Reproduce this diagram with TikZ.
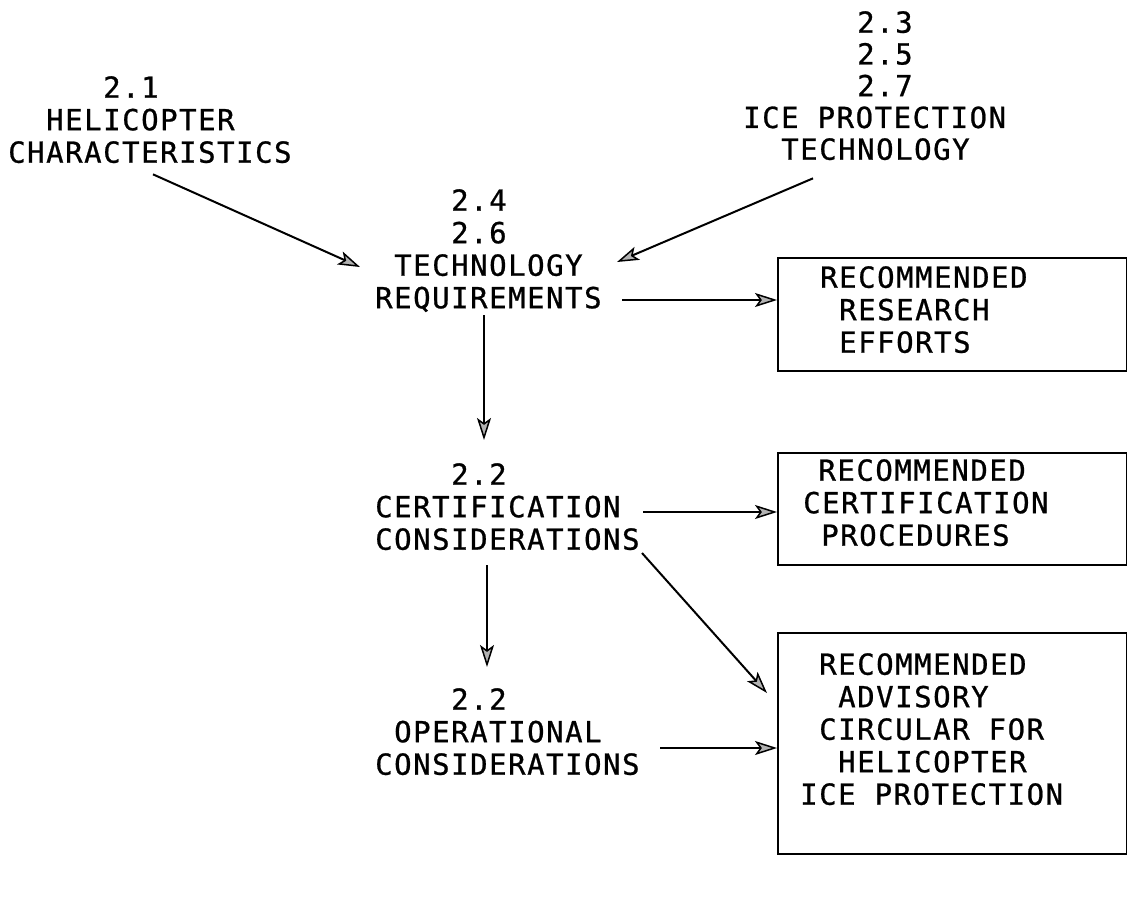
\documentclass[tikz,border=0pt]{standalone}
\usepackage{fontspec}
\newfontfamily\tw[LetterSpace=5.3,FakeBold=0.8]{DejaVu Sans Mono}
\usetikzlibrary{arrows.meta,calc}
\newlength\cwd
\setlength\cwd{19pt}
\newcommand\ind[1]{\hspace*{#1\cwd}}
\begin{document}
\begin{tikzpicture}[x=1pt,y=1pt,
  lbl/.style={font=\tw\fontsize{29}{32.5}\selectfont, align=left, inner sep=0pt, anchor=north west},
  boxst/.style={draw, line width=2.2pt, inner sep=0pt, anchor=north west},
  arr/.style={line width=2pt, -{Stealth[length=22pt,width=14pt,inset=5pt,fill=gray!60,line width=1.5pt]}}]
\fill[white] (0,0) rectangle (1127,-898);
\useasboundingbox (0,0) rectangle (1127,-898);

% text blocks
\node[lbl] (heli) at (8,-76) {\ind{5}2.1\\\ind{2}HELICOPTER\\CHARACTERISTICS};
\node[lbl, font=\tw\fontsize{29}{31.75}\selectfont] (ice) at (743,-11) {\ind{6}2.3\\\ind{6}2.5\\\ind{6}2.7\\ICE PROTECTION\\\ind{2}TECHNOLOGY};
\node[lbl] (tech) at (375,-189) {\ind{4}2.4\\\ind{4}2.6\\\ind{1}TECHNOLOGY\\REQUIREMENTS};
\node[lbl] (cert) at (375,-463) {\ind{4}2.2\\CERTIFICATION\\CONSIDERATIONS};
\node[lbl] (op) at (375,-688) {\ind{4}2.2\\\ind{1}OPERATIONAL\\CONSIDERATIONS};

% boxes
\node[boxst, minimum width=349pt, minimum height=113pt] (box1) at (777,-257) {};
\node[boxst, minimum width=349pt, minimum height=112pt] (box2) at (777,-452) {};
\node[boxst, minimum width=349pt, minimum height=221pt] (box3) at (777,-632) {};
\node[lbl] (r1) at (820,-266) {RECOMMENDED\\\ind{1}RESEARCH\\\ind{1}EFFORTS};
\node[lbl] (r2) at (803,-459) {\ind{0.8}RECOMMENDED\\CERTIFICATION\\\ind{0.95}PROCEDURES};
\node[lbl] (r3) at (800,-653) {\ind{1}RECOMMENDED\\\ind{2}ADVISORY\\\ind{1}CIRCULAR FOR\\\ind{2}HELICOPTER\\ICE PROTECTION};

% connector ends
\coordinate (a1s) at ($(heli.south west)+(145,-11)$);
\coordinate (a1e) at ($(tech.north west)+(-15,-78)$);
\coordinate (a2s) at ($(ice.south west)+(70,-18)$);
\coordinate (a2e) at ($(tech.north west)+(242,-73)$);
\coordinate (a3s) at ($(tech.north west)+(247,-111)$);
\coordinate (a4s) at ($(tech.north west)+(109,-126)$);
\coordinate (a4e) at ($(cert.north west)+(109,23)$);
\coordinate (a5s) at ($(cert.north west)+(268,-49)$);
\coordinate (a6s) at ($(cert.north west)+(112,-102)$);
\coordinate (a6e) at ($(op.north west)+(112,21)$);
\coordinate (a7s) at ($(cert.north west)+(267,-90)$);
\coordinate (a7e) at ($(box3.north west)+(-10,-61)$);
\coordinate (a8s) at ($(op.north west)+(285,-60)$);

% connectors
\draw[arr] (a1s) -- (a1e);
\draw[arr] (a2s) -- (a2e);
\draw[arr] (a3s) -- (a3s -| box1.west);
\draw[arr] (a4s) -- (a4e);
\draw[arr] (a5s) -- (a5s -| box2.west);
\draw[arr] (a6s) -- (a6e);
\draw[arr] (a7s) -- (a7e);
\draw[arr] (a8s) -- (a8s -| box3.west);
\end{tikzpicture}
\end{document}
